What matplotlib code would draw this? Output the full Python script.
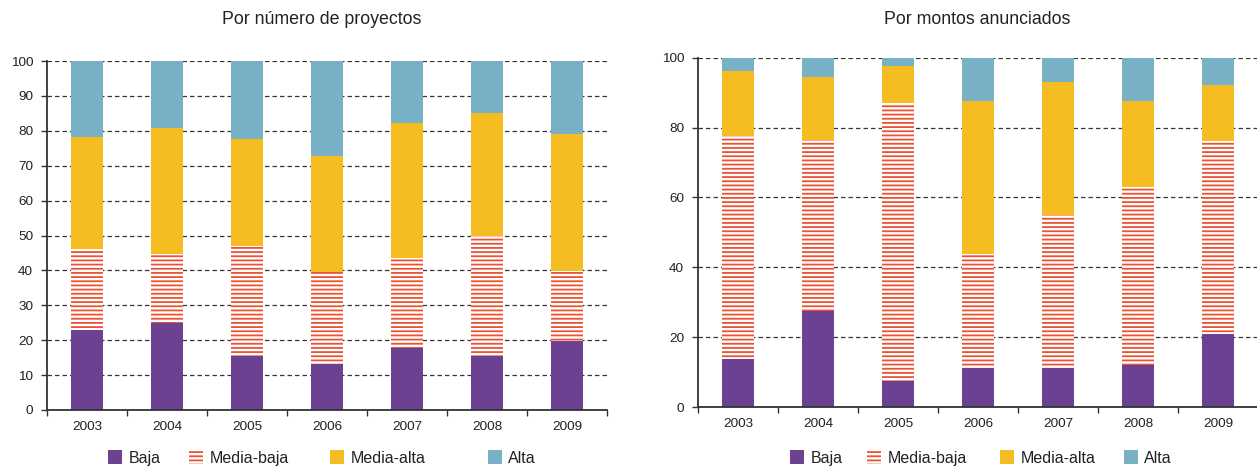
import matplotlib
matplotlib.use('Agg')
import matplotlib.pyplot as plt
from matplotlib.patches import Patch
from matplotlib.ticker import MultipleLocator
import numpy as np

# --- Datos (porcentajes) ---
years = ['2003', '2004', '2005', '2006', '2007', '2008', '2009']
series_names = ['Baja', 'Media-baja', 'Media-alta', 'Alta']

# Por número de proyectos
proy_baja = [22.8, 25.0, 15.4, 13.1, 17.7, 15.6, 19.9]
proy_media_baja = [23.3, 19.8, 31.7, 26.4, 25.9, 34.2, 19.9]
proy_media_alta = [32.1, 36.0, 30.5, 33.3, 38.6, 35.3, 39.2]
proy_alta = [21.8, 19.2, 22.4, 27.2, 17.8, 14.9, 21.0]

# Por montos anunciados
mont_baja = [13.8, 27.6, 7.5, 11.3, 11.1, 12.1, 21.0]
mont_media_baja = [63.8, 48.8, 79.4, 32.5, 43.9, 50.9, 55.2]
mont_media_alta = [18.7, 18.2, 10.8, 43.9, 38.1, 24.7, 16.1]
mont_alta = [3.7, 5.4, 2.3, 12.3, 6.9, 12.3, 7.7]

# --- Estilo ---
plt.rcParams['font.family'] = ['Liberation Sans', 'DejaVu Sans']
plt.rcParams['hatch.linewidth'] = 1.3
plt.rcParams['lines.scale_dashes'] = False

purple = '#6c4191'
red = '#ec5134'
yellow = '#f5bd22'
blue = '#78b1c6'
ink = '#222222'


def draw_panel(ax, data, ystep):
    x = np.arange(len(years))
    bottom = np.zeros(len(years))
    # Baja
    ax.bar(x, data[0], bottom=bottom, width=0.41, color=purple, linewidth=0, zorder=2)
    bottom += data[0]
    # Media-baja (rayado)
    ax.bar(x, data[1], bottom=bottom, width=0.41, facecolor='white', edgecolor=red,
           hatch='----', linewidth=0, zorder=2)
    bottom += data[1]
    # Media-alta
    ax.bar(x, data[2], bottom=bottom, width=0.41, color=yellow, linewidth=0, zorder=2)
    bottom += data[2]
    # Alta
    ax.bar(x, data[3], bottom=bottom, width=0.41, color=blue, linewidth=0, zorder=2)

    ax.set_xlim(-0.5, len(years) - 0.5)
    ax.set_ylim(0, 100)
    ax.yaxis.set_major_locator(MultipleLocator(ystep))
    ax.set_xticks(x)
    ax.set_xticklabels(years)
    ax.set_xticks(np.arange(-0.5, len(years)), minor=True)
    ax.tick_params(axis='x', which='major', length=0, pad=8, labelsize=9.7, labelcolor=ink)
    ax.tick_params(axis='x', which='minor', length=4, width=1.0, color='#333333')
    ax.tick_params(axis='y', length=4, width=1.0, color='#333333', labelsize=9.7,
                   labelcolor=ink, pad=6)
    ax.grid(axis='y', color='#333333', linewidth=0.9, linestyle=(0, (3.2, 2.2)), zorder=0)
    ax.set_axisbelow(True)
    for s in ['top', 'right']:
        ax.spines[s].set_visible(False)
    for s in ['left', 'bottom']:
        ax.spines[s].set_linewidth(1.3)
        ax.spines[s].set_color('#333333')


fig = plt.figure(figsize=(12.57, 4.67), dpi=100)
ax1 = fig.add_axes([47 / 1257, 1 - 410 / 467, 560 / 1257, 349 / 467])
ax2 = fig.add_axes([698 / 1257, 1 - 407 / 467, 560 / 1257, 349.3 / 467])

draw_panel(ax1, [proy_baja, proy_media_baja, proy_media_alta, proy_alta], 10)
draw_panel(ax2, [mont_baja, mont_media_baja, mont_media_alta, mont_alta], 20)

fig.text(322 / 1257, 1 - 19 / 467, 'Por número de proyectos', ha='center', va='center',
         fontsize=12.8, color=ink)
fig.text(977 / 1257, 1 - 19 / 467, 'Por montos anunciados', ha='center', va='center',
         fontsize=12.8, color=ink)

# --- Leyendas (una entrada por posición) ---
handles = [
    Patch(facecolor=purple, linewidth=0),
    Patch(facecolor='white', edgecolor=red, hatch='----', linewidth=0),
    Patch(facecolor=yellow, linewidth=0),
    Patch(facecolor=blue, linewidth=0),
]
legend_x = {
    'left': [112, 193, 334, 492],
    'right': [794, 871, 1004, 1128],
}
for key in ['left', 'right']:
    for h, name, px in zip(handles, series_names, legend_x[key]):
        leg = fig.legend([h], [name], loc='center left',
                         bbox_to_anchor=(px / 1257 - 0.0035, 1 - 458 / 467),
                         frameon=False, fontsize=11.5, handlelength=0.9,
                         handleheight=0.9, handletextpad=0.4, borderpad=0,
                         borderaxespad=0)
        for t in leg.get_texts():
            t.set_color(ink)

fig.savefig('out.png', dpi=100)
